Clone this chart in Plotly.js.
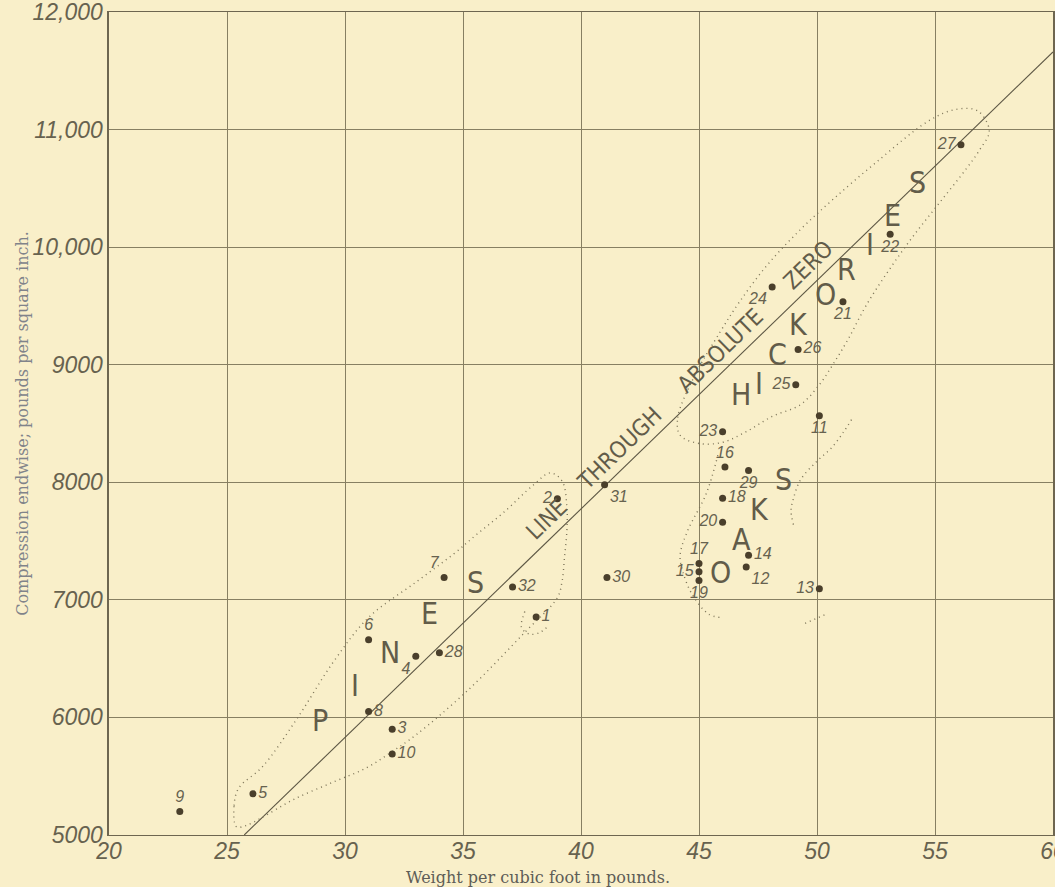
<!DOCTYPE html>
<html>
<head>
<meta charset="utf-8">
<script src="https://cdn.plot.ly/plotly-3.0.1.min.js"></script>
<style>
html,body{margin:0;padding:0;background:#F9EFC9;}
#chart{width:1055px;height:887px;}
</style>
</head>
<body>
<div id="chart"></div>
<script>
// ---- Data ----
const pointIds = ["1","2","3","4","5","6","7","8","9","10","11","12","13","14","15","16",
                  "17","18","19","20","21","22","23","24","25","26","27","28","29","30","31","32"];
const weight = [38.1, 39.0, 32.0, 33.0, 26.1, 31.0, 34.2, 31.0, 23.0, 32.0, 50.1, 47.0, 50.1, 47.1, 45.0, 46.1,
                45.0, 46.0, 45.0, 46.0, 51.1, 53.1, 46.0, 48.1, 49.1, 49.2, 56.1, 34.0, 47.1, 41.1, 41.0, 37.1];
const compression = [6855, 7860, 5900, 6520, 5350, 6660, 7190, 6050, 5200, 5690, 8565, 7280, 7095, 7380, 7240, 8130,
                     7310, 7865, 7165, 7660, 9535, 10110, 8430, 9660, 8830, 9130, 10870, 6550, 8100, 7190, 7980, 7110];
const labelSide = ["middle right","middle left","middle right","bottom left","middle right","top center","top left","middle right",
                   "top center","middle right","bottom center","bottom right","middle left","middle right","middle left","top center",
                   "top center","middle right","bottom center","middle left","bottom center","bottom center","middle left","bottom left",
                   "middle left","middle right","middle left","middle right","bottom center","middle right","bottom right","middle right"];

// line through absolute zero (read end points)
const zeroLineX = [25.73, 60];
const zeroLineY = [5000, 11660];

// dotted group outlines
const pinesOutlineX = [25.4, 25.3, 25.5, 26.5, 28.0, 29.5, 31.0, 33.0, 34.6, 35.6, 36.7, 38.0, 38.7, 39.2, 39.4, 39.4, 39.3, 39.2, 39.0, 37.6, 35.2, 33.0, 32.0, 30.9, 29.5, 27.8, 26.5, 25.8, 25.4];
const pinesOutlineY = [5070, 5250, 5400, 5580, 6000, 6470, 6850, 7150, 7390, 7560, 7740, 7980, 8080, 8010, 7800, 7585, 7360, 7160, 7020, 6720, 6230, 5850, 5710, 5570, 5450, 5300, 5150, 5080, 5070];
const loopOneX = [37.62, 37.48, 37.84, 38.26, 38.6];
const loopOneY = [6900, 6764, 6708, 6723, 6775];
const hickOutlineX = [44.2, 44.1, 44.8, 45.9, 46.7, 47.9, 49.3, 50.7, 52.5, 54.7, 55.85, 56.8, 57.3, 56.9, 56.3, 55.2, 54.1, 53.1, 52.1, 51.3, 50.7, 50.1, 49.3, 48.1, 47.0, 46.0, 45.0, 44.2];
const hickOutlineY = [8400, 8550, 8900, 9280, 9530, 9850, 10150, 10410, 10720, 11070, 11170, 11160, 10990, 10830, 10660, 10380, 10100, 9820, 9510, 9210, 9010, 8830, 8660, 8560, 8430, 8340, 8330, 8400];
const oakOutlineX = [45.8, 45.3, 44.5, 44.2, 44.3, 44.7, 45.4, 45.9, null, 49.5, 50.4, null, 49.0, 48.9, 49.0, 49.3, 50.0, 50.6, 51.1, 51.5];
const oakOutlineY = [8230, 7900, 7580, 7380, 7250, 7050, 6880, 6850, null, 6800, 6880, null, 7640, 7760, 7860, 8020, 8180, 8290, 8420, 8545];

// group lettering (letters and their read positions)
const pinesLetters = ["P","I","N","E","S"];
const pinesLetterX = [28.94, 30.42, 31.91, 33.60, 35.51];
const pinesLetterY = [5974, 6271, 6550, 6881, 7144];
const hickLetters = ["H","I","C","K","O","R","I","E","S"];
const hickLetterX = [46.80, 47.55, 48.31, 49.20, 50.35, 51.27, 52.25, 53.18, 54.24];
const hickLetterY = [8746, 8839, 9085, 9340, 9600, 9813, 10025, 10271, 10551];
const oakLetters = ["O","A","K","S"];
const oakLetterX = [45.89, 46.82, 47.58, 48.56];
const oakLetterY = [7229, 7517, 7771, 8025];
const zeroLineWords = ["LINE", "THROUGH", "ABSOLUTE", "ZERO"];

// axes
const xTickVals = [20, 25, 30, 35, 40, 45, 50, 55, 60];
const xTickText = ["20","25","30","35","40","45","50","55","60"];
const yTickVals = [5000, 6000, 7000, 8000, 9000, 10000, 11000, 12000];
const yTickText = ["5000","6000","7000","8000","9000","10,000","11,000","12,000"];
const xTitle = "Weight per cubic foot in pounds.";
const yTitle = "Compression endwise; pounds per square inch.";

// ---- Styles ----
const ink = "#625c49";
const gridC = "#877f62";
const dotC = "#4a3f2b";
const bg = "#F9EFC9";
const handFont = {family: "Liberation Sans, Arial, sans-serif", style: "italic", color: "#67624f"};
const letterFamily = "Liberation Sans Narrow, DejaVu Sans Condensed, Liberation Sans, Arial, sans-serif";

const outlineStyle = {color: "#7d7559", width: 1.4, dash: "1px,4px", shape: "spline"};

const traces = [
  {x: zeroLineX, y: zeroLineY, mode: "lines", line: {color: "#5d5744", width: 1.1}, hoverinfo: "skip"},
  {x: pinesOutlineX, y: pinesOutlineY, mode: "lines", line: outlineStyle, hoverinfo: "skip"},
  {x: loopOneX, y: loopOneY, mode: "lines", line: outlineStyle, hoverinfo: "skip"},
  {x: hickOutlineX, y: hickOutlineY, mode: "lines", line: outlineStyle, hoverinfo: "skip"},
  {x: oakOutlineX, y: oakOutlineY, mode: "lines", line: outlineStyle, connectgaps: false, hoverinfo: "skip"},
  {x: weight, y: compression, mode: "markers+text", text: pointIds, textposition: labelSide,
   marker: {color: dotC, size: 7}, textfont: Object.assign({size: 16}, handFont), cliponaxis: false}
];

const annotations = [];
function addLetters(letters, xs, ys, size) {
  letters.forEach((t, i) => annotations.push({
    x: xs[i], y: ys[i], xref: "x", yref: "y", text: t, showarrow: false,
    font: {family: letterFamily, size: size, color: ink},
    xanchor: "center", yanchor: "middle"
  }));
}
addLetters(pinesLetters, pinesLetterX, pinesLetterY, 30);
addLetters(hickLetters, hickLetterX, hickLetterY, 30);
addLetters(oakLetters, oakLetterX, oakLetterY, 30);

// label along the zero line, words widely spaced, sitting just above it
const NB = "\u00A0";
const zeroLineLabel = zeroLineWords[0] + NB.repeat(4) + zeroLineWords[1] + NB.repeat(5) +
                      zeroLineWords[2] + NB.repeat(6) + zeroLineWords[3];
const midX = 44.68;
const midY = zeroLineY[0] + (midX - zeroLineX[0]) * (zeroLineY[1] - zeroLineY[0]) / (zeroLineX[1] - zeroLineX[0]);
annotations.push({
  x: midX, y: midY, xref: "x", yref: "y", text: zeroLineLabel, showarrow: false,
  textangle: -44.2, xshift: -12, yshift: 12,
  font: {family: letterFamily, size: 23, color: ink}
});

// x axis title (sits left of centre in the reference)
annotations.push({
  x: 0.4545, y: 0, xref: "paper", yref: "paper", yshift: -42, text: xTitle, showarrow: false,
  xanchor: "center", yanchor: "middle",
  font: {family: "DejaVu Serif, Liberation Serif, serif", size: 16, color: "#5e5d57"}
});

const layout = {
  width: 1055, height: 887,
  margin: {l: 109, r: 2, t: 12, b: 52, pad: 0},
  paper_bgcolor: bg, plot_bgcolor: bg,
  showlegend: false,
  xaxis: {
    range: [20, 60], tickvals: xTickVals, ticktext: xTickText, ticks: "",
    ticklabeloverflow: "allow", ticklabelstandoff: -5,
    showgrid: true, gridcolor: gridC, gridwidth: 1, zeroline: false,
    showline: true, linecolor: "#6e6650", linewidth: 1.4, mirror: true,
    tickfont: Object.assign({size: 23}, handFont)
  },
  yaxis: {
    range: [5000, 12000], tickvals: yTickVals, ticktext: yTickText, ticks: "",
    ticklabeloverflow: "allow",
    showgrid: true, gridcolor: gridC, gridwidth: 1, zeroline: false,
    showline: true, linecolor: "#6e6650", linewidth: 1.6, mirror: true,
    tickfont: Object.assign({size: 23}, handFont),
    title: {text: yTitle, standoff: 0, font: {family: "DejaVu Serif, Liberation Serif, serif", size: 16, color: "#80838a"}}
  },
  annotations: annotations
};

Plotly.newPlot("chart", traces, layout, {staticPlot: true, displayModeBar: false});
</script>
</body>
</html>
